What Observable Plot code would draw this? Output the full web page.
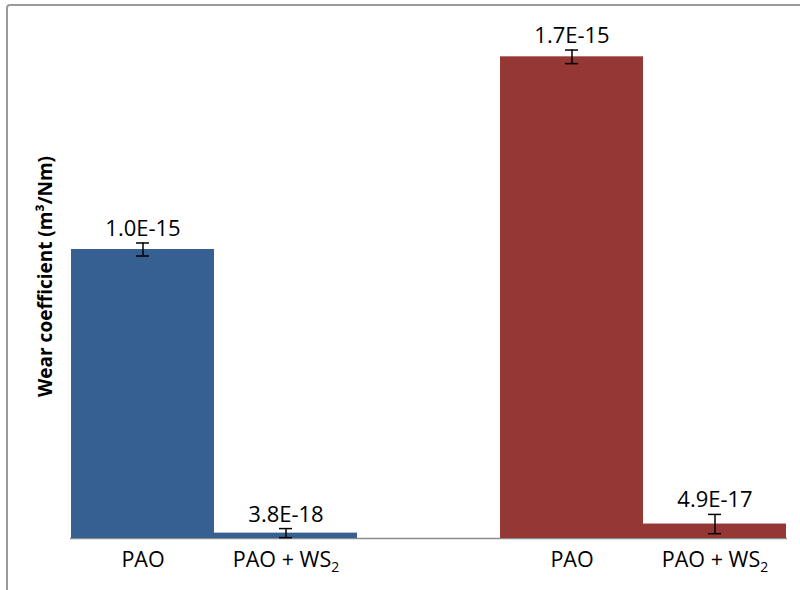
<!DOCTYPE html>
<html>
<head>
<meta charset="utf-8">
<script src="https://cdn.jsdelivr.net/npm/d3@7"></script>
<script src="https://cdn.jsdelivr.net/npm/@observablehq/plot@0.6"></script>
<style>
  html, body { margin: 0; padding: 0; background: #fff; }
  #wrap { position: relative; width: 800px; height: 590px; overflow: hidden; background: #fff; }
  #border { position: absolute; left: 6px; top: 4px; width: 900px; height: 700px;
            border: 2px solid #9a9a9a; border-radius: 4px; box-sizing: border-box; pointer-events: none; }
</style>
</head>
<body>
<div id="wrap"><div id="border"></div></div>
<script>
// ---- data ----
const barKeys = ["A-PAO", "A-PAO+WS2", "B-PAO", "B-PAO+WS2"];
const tickLabels = ["PAO", "PAO + WS2", "PAO", "PAO + WS2"];
const groups = ["A", "A", "B", "B"];
const values = [1.02e-15, 1.9e-17, 1.70e-15, 5.1e-17];
const errors = [2.3e-17, 1.6e-17, 2.4e-17, 3.4e-17];
const valueLabels = ["1.0E-15", "3.8E-18", "1.7E-15", "4.9E-17"];
const groupColors = ["#376092", "#953735"];
const yTitle = "Wear coefficient (m³/Nm)";

const rows = barKeys.map((k, i) => ({
  key: k, label: tickLabels[i], group: groups[i],
  value: values[i], err: errors[i], text: valueLabels[i]
}));
const xDomain = [barKeys[0], barKeys[1], "gap", barKeys[2], barKeys[3]];
const labelMap = Object.fromEntries(barKeys.map((k, i) => [k, tickLabels[i]]));

const chart = Plot.plot({
  width: 800,
  height: 590,
  marginLeft: 70,
  marginRight: 13,
  marginTop: 28,
  marginBottom: 52,
  style: { fontFamily: "'Open Sans', sans-serif", fontSize: "21.5px", color: "#000", background: "transparent" },
  x: { domain: xDomain, padding: 0, tickSize: 0, tickPadding: 13, label: null,
       tickFormat: k => labelMap[k] ?? "" },
  y: { domain: [0, 1.8e-15], axis: null },
  color: { domain: ["A", "B"], range: groupColors },
  marks: [
    Plot.ruleY([0], { stroke: "#8c8c8c", strokeWidth: 1.5 }),
    Plot.barY(rows, { x: "key", y: "value", fill: "group" }),
    Plot.ruleX(rows, { x: "key", y1: d => d.value - d.err, y2: d => d.value + d.err, stroke: "#000", strokeWidth: 1.5 }),
    Plot.tickY(rows, { x: "key", y: d => d.value + d.err, stroke: "#000", strokeWidth: 1.5, insetLeft: 65, insetRight: 65 }),
    Plot.tickY(rows, { x: "key", y: d => d.value - d.err, stroke: "#000", strokeWidth: 1.5, insetLeft: 65, insetRight: 65 }),
    Plot.text(rows, { x: "key", y: d => d.value + d.err, text: "text", lineAnchor: "bottom", dy: -7, fontSize: 22, fill: "#000" }),
    Plot.text([yTitle], { frameAnchor: "left", dx: -25, dy: -7, rotate: -90, textAnchor: "middle", fontWeight: "bold", fontSize: 19, fill: "#000" })
  ]
});

// subscript "2" in WS2 tick labels
d3.select(chart).selectAll("text").each(function () {
  const t = d3.select(this);
  const s = t.text();
  if (s.endsWith("WS2") && this.childNodes.length <= 1) {
    t.text(s.slice(0, -1));
    t.append("tspan").attr("font-size", "14px").attr("dy", "5").text("2");
  }
});

document.getElementById("wrap").insertBefore(chart, document.getElementById("border"));
chart.style.position = "absolute";
chart.style.left = "0";
chart.style.top = "0";
</script>
</body>
</html>
